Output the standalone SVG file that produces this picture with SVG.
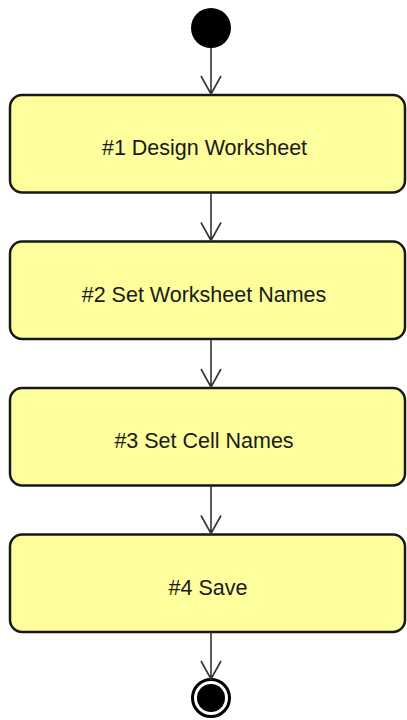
<svg xmlns="http://www.w3.org/2000/svg" width="407" height="720" viewBox="0 0 407 720">
<style>
.box{fill:#FEFE9C;stroke:#181818;stroke-width:2.5}
.lbl{font-family:"Liberation Sans",Arial,sans-serif;font-size:21.5px;fill:#1a1a1a;text-anchor:middle}
.edge{stroke:#333;stroke-width:1.6;fill:none}
</style>
<rect width="407" height="720" fill="#fff"/>
<g id="start"><circle cx="211" cy="28" r="20" fill="#000"/></g>
<g id="n1"><rect class="box" x="10" y="95" width="395" height="97.5" rx="12"/><text class="lbl" x="204.5" y="155">#1 Design Worksheet</text></g>
<g id="n2"><rect class="box" x="10" y="241.5" width="395" height="97.5" rx="12"/><text class="lbl" x="204" y="301.5">#2 Set Worksheet Names</text></g>
<g id="n3"><rect class="box" x="10" y="388" width="395" height="97.5" rx="12"/><text class="lbl" x="204" y="448">#3 Set Cell Names</text></g>
<g id="n4"><rect class="box" x="10" y="534.5" width="395" height="97.5" rx="12"/><text class="lbl" x="208" y="594.5">#4 Save</text></g>
<g id="end"><circle cx="211" cy="698" r="18.5" fill="#fff" stroke="#000" stroke-width="3"/><circle cx="211" cy="698" r="14" fill="#000"/></g>
<g id="edges">
<path class="edge" d="M211 48V94M201 76L211 94L221 76"/>
<path class="edge" d="M211 192.5V240.5M201 222.5L211 240.5L221 222.5"/>
<path class="edge" d="M211 339V387M201 369L211 387L221 369"/>
<path class="edge" d="M211 485.5V533.5M201 515.5L211 533.5L221 515.5"/>
<path class="edge" d="M211 632V679M201 661L211 679L221 661"/>
</g>
</svg>
